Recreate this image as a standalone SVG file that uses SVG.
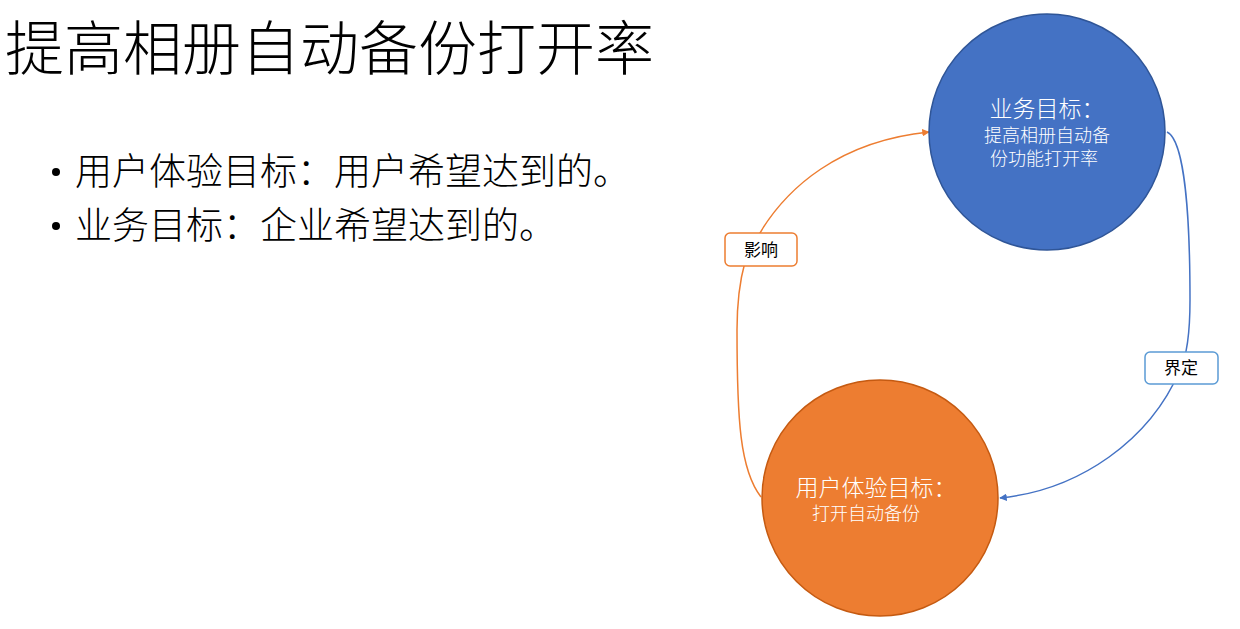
<svg xmlns="http://www.w3.org/2000/svg" width="1240" height="629" viewBox="0 0 1240 629">
<style>
text{font-family:"Noto Sans CJK SC","Liberation Sans",sans-serif}
.t{fill:#000}
.w{fill:#fff}
.lb{fill:#fff;stroke-width:1.5}
</style>
<defs>
<marker id="ao" viewBox="0 0 10 10" refX="9" refY="5" markerWidth="5" markerHeight="5" orient="auto"><path d="M0,0L10,5L0,10z" fill="#ED7D31"/></marker>
<marker id="ab" viewBox="0 0 10 10" refX="9" refY="5" markerWidth="5" markerHeight="5" orient="auto"><path d="M0,0L10,5L0,10z" fill="#4472C4"/></marker>
</defs>
<rect width="1240" height="629" fill="#fff"/>
<text class="t" x="5" y="70" font-size="59" font-weight="300">提高相册自动备份打开率</text>
<circle cx="56" cy="172" r="4" fill="#000"/>
<circle cx="56" cy="226" r="4" fill="#000"/>
<text class="t" x="75" y="185" font-size="37" font-weight="300">用户体验目标：用户希望达到的。</text>
<text class="t" x="75" y="239" font-size="37" font-weight="300">业务目标：企业希望达到的。</text>
<g id="connectors" fill="none" stroke-width="1.5">
<path d="M761,497 C740,470 737,420 737,330 C737,300 740,280 745,262 C780,180 850,140 929,132" stroke="#ED7D31" marker-end="url(#ao)"/>
<path d="M1167,132 C1185,140 1190,220 1190,300 C1190,340 1185,360 1180,370 C1150,440 1080,490 1000,498" stroke="#4472C4" marker-end="url(#ab)"/>
</g>
<g id="biz">
<circle cx="1047" cy="132" r="118" fill="#4472C4" stroke="#2F5597" stroke-width="1.5"/>
<text class="w" x="1047" y="117" font-size="23" font-weight="300" text-anchor="middle">业务目标：</text>
<text class="w" x="1047" y="142" font-size="18" font-weight="300" text-anchor="middle">提高相册自动备</text>
<text class="w" x="1044" y="165" font-size="18" font-weight="300" text-anchor="middle">份功能打开率</text>
</g>
<g id="ux">
<circle cx="880" cy="498" r="118" fill="#ED7D31" stroke="#C55A11" stroke-width="1.5"/>
<text class="w" x="876" y="496" font-size="23" font-weight="300" text-anchor="middle">用户体验目标：</text>
<text class="w" x="866" y="520" font-size="18" font-weight="300" text-anchor="middle">打开自动备份</text>
</g>
<g id="lbl1">
<rect class="lb" x="725" y="233" width="72" height="33" rx="5" stroke="#ED7D31"/>
<text class="t" x="761" y="256" font-size="17" text-anchor="middle">影响</text>
</g>
<g id="lbl2">
<rect class="lb" x="1145" y="352" width="73" height="32" rx="5" stroke="#5B9BD5"/>
<text class="t" x="1181" y="374" font-size="17" text-anchor="middle">界定</text>
</g>
</svg>
